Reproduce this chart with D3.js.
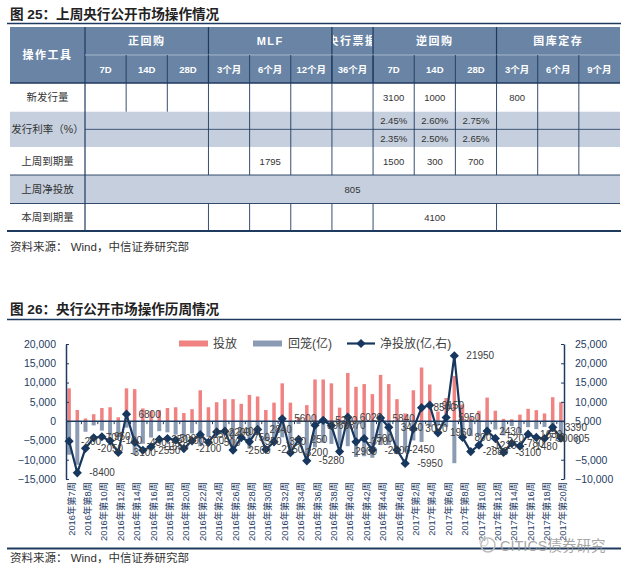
<!DOCTYPE html>
<html><head><meta charset="utf-8">
<script src="https://cdn.jsdelivr.net/npm/d3@7"></script>
<style>
body{margin:0;background:#fff;}
svg{display:block;}
text{font-family:"Liberation Sans","Noto Sans CJK SC",sans-serif;}
</style></head><body>
<svg id="c" width="624" height="572"></svg>
<script>
// ---------------- Table data ----------------
const groupHeaders = ["正回购","MLF","央行票据","逆回购","国库定存"];
const groupSpans   = [3,3,1,3,3];
const subHeaders   = ["7D","14D","28D","3个月","6个月","12个月","36个月","7D","14D","28D","3个月","6个月","9个月"];
const rowNames     = ["新发行量","发行利率（%）","上周到期量","上周净投放","本周到期量"];
const newIssueVals = ["","","","","","","","3100","1000","","800","",""];
const rateHighVals = ["","","","","","","","2.45%","2.60%","2.75%","","",""];
const rateLowVals  = ["","","","","","","","2.35%","2.50%","2.65%","","",""];
const maturedVals  = ["","","","","1795","","","1500","300","700","","",""];
const netLastVals  = ["805"];
const maturingVals = ["","","","","","4100",""];
const rowSpans = [
  [1,1,1,1,1,1,1,1,1,1,1,1,1],
  [3,1,1,1,1,1,1,1,1,1,1],
  [3,1,1,1,1,1,1,1,1,1,1],
  [13],
  [3,1,1,1,1,3,3]
];

// ---------------- Chart data ----------------
const tickLabels = ["2016年第7周","2016年第8周","2016年第10周","2016年第12周","2016年第14周","2016年第16周",
  "2016年第18周","2016年第20周","2016年第22周","2016年第24周","2016年第26周","2016年第28周","2016年第30周",
  "2016年第32周","2016年第34周","2016年第36周","2016年第38周","2016年第40周","2016年第42周","2016年第44周",
  "2016年第46周","2017年第2周","2017年第4周","2017年第6周","2017年第8周","2017年第10周","2017年第12周",
  "2017年第14周","2017年第16周","2017年第18周","2017年第20周"];
// 投放 (亿, left axis)
const invest = [8500,2900,700,1800,3400,3600,1000,8500,8300,3300,
  2600,2850,3400,3600,2100,3100,8000,3600,4900,5700,
  5700,4500,6800,6400,2900,4800,9800,4800,1000,4150,
  10800,10800,9800,3500,12500,8900,9600,7000,12000,9600,
  5700,2000,8000,13900,9500,2500,6000,11700,4300,1000,
  2700,6100,2700,600,500,1700,3200,2850,2000,6200,4900];
// 回笼 (亿, left axis)
const withdraw = [-8700,-11300,-2750,-1100,-2450,-3700,-4100,-1700,-8750,-5850,
  -4250,-2600,-2900,-3500,-4200,-3200,-6500,-4100,-2700,-3300,
  -8200,-3750,-7150,-3600,-5250,-5150,-4200,-8000,-750,-9400,
  -6800,-5600,-5900,-6400,-6500,-9300,-9100,-9500,-6200,-6200,
  -8150,-7950,-5000,-5400,-1500,-1000,-1500,-10900,-3500,-3880,
  -3920,-3670,-2180,-3700,-1280,-3180,-1570,-2080,-1500,-2810,-4295];
// 净投放 (亿, right axis)
const net = [-200,-8400,-2050,700,950,-100,-3100,6800,-450,-2550,
  -1650,250,500,100,-2100,-100,1500,-500,2200,2400,
  -2500,750,-350,2840,-2350,-350,5600,-3200,250,-5280,
  3960,5200,3870,-2900,6020,-370,500,-2500,5840,3410,
  -2450,-5950,3020,8500,9150,1960,5950,21950,800,-2880,
  -1220,2430,520,-3100,-780,-1480,1630,770,500,3390,605];
const leftTicks  = [-15000,-10000,-5000,0,5000,10000,15000,20000];
const rightTicks = [-10000,-5000,0,5000,10000,15000,20000,25000];

const navy = "#1f3a5f";
const svg = d3.select("#c");

// ---------------- Titles ----------------
function title(y, t){
  svg.append("text").attr("x",10).attr("y",y).text(t)
    .attr("font-size",13.6).attr("font-weight","bold").attr("fill","#222")
    .attr("font-family","'Noto Sans CJK SC','Liberation Sans',sans-serif");
}
title(18.5,"图 25：上周央行公开市场操作情况");
svg.append("line").attr("x1",7).attr("x2",621).attr("y1",23.5).attr("y2",23.5).attr("stroke",navy).attr("stroke-width",1.5);

// ---------------- Table ----------------
const tX0 = 10, tX1 = 85, tX2 = 620;
const col = d3.scaleBand().domain(d3.range(13)).range([tX1,tX2]);
const hdrY = [27,55,83];
const rowY = [83,111.7,147,175,203.5,231];
const hdrFill = "#6984a5", lightFill = "#c5cfdd";
const T = svg.append("g");
T.append("rect").attr("x",tX0).attr("y",hdrY[0]).attr("width",tX2-tX0).attr("height",hdrY[2]-hdrY[0]).attr("fill",hdrFill);
[1,3].forEach(r=>T.append("rect").attr("x",tX0).attr("y",rowY[r]).attr("width",tX2-tX0).attr("height",rowY[r+1]-rowY[r]).attr("fill",lightFill));

const clip = svg.append("defs");
let c0 = 0;
groupHeaders.forEach((g,k)=>{
  const x0 = col(c0), x1 = col(c0+groupSpans[k]-1)+col.bandwidth();
  clip.append("clipPath").attr("id","hc"+k).append("rect").attr("x",x0+1).attr("y",hdrY[0]).attr("width",x1-x0-2).attr("height",28);
  T.append("text").attr("x",(x0+x1)/2).attr("y",(hdrY[0]+hdrY[1])/2+4).attr("text-anchor","middle")
    .attr("fill","#fff").attr("font-weight","bold").attr("font-size",11).attr("letter-spacing",1.5)
    .attr("clip-path","url(#hc"+k+")").text(g);
  if(c0>0) T.append("line").attr("x1",x0).attr("x2",x0).attr("y1",hdrY[0]).attr("y2",hdrY[2]).attr("stroke",navy).attr("stroke-width",1.2);
  c0 += groupSpans[k];
});
T.append("line").attr("x1",tX1).attr("x2",tX1).attr("y1",hdrY[0]).attr("y2",rowY[5]).attr("stroke",navy).attr("stroke-width",1.2);
T.append("line").attr("x1",tX1).attr("x2",tX2).attr("y1",hdrY[1]).attr("y2",hdrY[1]).attr("stroke","#b8c6d6").attr("stroke-width",0.8);
subHeaders.forEach((s,i)=>{
  T.append("text").attr("x",col(i)+col.bandwidth()/2).attr("y",(hdrY[1]+hdrY[2])/2+3.5).attr("text-anchor","middle")
    .attr("fill","#fff").attr("font-weight","bold").attr("font-size",9.5).text(s);
  if(i>0) T.append("line").attr("x1",col(i)).attr("x2",col(i)).attr("y1",hdrY[1]).attr("y2",hdrY[2]).attr("stroke",navy).attr("stroke-width",0.9);
});
T.append("text").attr("x",(tX0+tX1)/2).attr("y",(hdrY[0]+hdrY[2])/2+4).attr("text-anchor","middle")
  .attr("fill","#fff").attr("font-weight","bold").attr("font-size",11).attr("letter-spacing",1.5).text("操作工具");
T.append("line").attr("x1",tX0).attr("x2",tX2).attr("y1",hdrY[2]).attr("y2",hdrY[2]).attr("stroke",navy).attr("stroke-width",1.5);

rowNames.forEach((n,r)=>{
  T.append("text").attr("x",(tX0+tX1)/2).attr("y",(rowY[r]+rowY[r+1])/2+4).attr("text-anchor","middle")
    .attr("fill","#333").attr("font-size",10.5).text(n);
  let c = 0;
  rowSpans[r].forEach((sp,k)=>{
    if(c>0) T.append("line").attr("x1",col(c)).attr("x2",col(c)).attr("y1",rowY[r]).attr("y2",rowY[r+1]).attr("stroke",navy).attr("stroke-width",0.9);
    c += sp;
  });
});
function cellTexts(vals, spans, y){
  let c = 0;
  spans.forEach((sp,k)=>{
    const v = vals[k];
    if(v){
      const x0 = col(c), x1 = col(c+sp-1)+col.bandwidth();
      T.append("text").attr("x",(x0+x1)/2).attr("y",y).attr("text-anchor","middle").attr("fill","#333").attr("font-size",9.5).text(v);
    }
    c += sp;
  });
}
const single = d3.range(13).map(()=>1);
cellTexts(newIssueVals, single, (rowY[0]+rowY[1])/2+3.5);
const rMid = (rowY[1]+rowY[2])/2;
cellTexts(rateHighVals, single, (rowY[1]+rMid)/2+3.5);
cellTexts(rateLowVals, single, (rMid+rowY[2])/2+3.5);
T.append("line").attr("x1",tX1).attr("x2",tX2).attr("y1",rMid).attr("y2",rMid).attr("stroke",navy).attr("stroke-width",0.8);
cellTexts(maturedVals, single, (rowY[2]+rowY[3])/2+3.5);
cellTexts(netLastVals, rowSpans[3], (rowY[3]+rowY[4])/2+3.5);
cellTexts(maturingVals, rowSpans[4], (rowY[4]+rowY[5])/2+3.5);
[rowY[3],rowY[4]].forEach(y=>T.append("line").attr("x1",tX0).attr("x2",tX2).attr("y1",y).attr("y2",y).attr("stroke",navy).attr("stroke-width",0.9));
T.append("line").attr("x1",7).attr("x2",621).attr("y1",rowY[5]).attr("y2",rowY[5]).attr("stroke",navy).attr("stroke-width",2);
svg.append("text").attr("x",10).attr("y",250.5).attr("font-size",11.5).attr("fill","#333").text("资料来源： Wind，中信证券研究部");

// ---------------- Chart ----------------
title(314,"图 26：央行公开市场操作历周情况");
svg.append("line").attr("x1",7).attr("x2",621).attr("y1",319.5).attr("y2",319.5).attr("stroke",navy).attr("stroke-width",1.5);

const x = d3.scaleBand().domain(d3.range(invest.length)).range([65,565]);
const cx = i => x(i) + x.bandwidth()/2;
const yL = d3.scaleLinear().domain([-15000,20000]).range([479,344]);
const yR = d3.scaleLinear().domain([-10000,25000]).range([479,344]);
const G = svg.append("g");

G.selectAll(".wd").data(withdraw).enter().append("rect")
  .attr("x",(d,i)=>cx(i)-2).attr("width",4)
  .attr("y",yL(0)).attr("height",d=>yL(d)-yL(0)).attr("fill","#8a9bb3");
G.selectAll(".iv").data(invest).enter().append("rect")
  .attr("x",(d,i)=>cx(i)-1.75).attr("width",3.5)
  .attr("y",d=>yL(d)).attr("height",d=>yL(0)-yL(d)).attr("fill","#f08282");

const axL = G.append("g").attr("transform","translate(66,0)")
  .call(d3.axisLeft(yL).tickValues(leftTicks).tickSizeInner(-3).tickSizeOuter(0).tickPadding(10));
const axR = G.append("g").attr("transform","translate(564,0)")
  .call(d3.axisRight(yR).tickValues(rightTicks).tickSizeInner(-3).tickSizeOuter(0).tickPadding(11));
[axL,axR].forEach(a=>{
  a.select(".domain").attr("stroke",navy).attr("stroke-width",1.5);
  a.selectAll(".tick line").attr("stroke",navy);
  a.selectAll(".tick text").attr("fill","#1f3c64").attr("font-size",10.5);
});
G.append("line").attr("x1",66).attr("x2",564).attr("y1",yL(0)).attr("y2",yL(0)).attr("stroke",navy).attr("stroke-width",1.5);
d3.range(2,invest.length,2).forEach(i=>{
  G.append("line").attr("x1",x(i)).attr("x2",x(i)).attr("y1",yL(0)).attr("y2",yL(0)+3).attr("stroke",navy);
});
tickLabels.forEach((t,k)=>{
  const i = k*2;
  G.append("text").attr("transform",`translate(${cx(i)},482) rotate(-90)`)
    .attr("text-anchor","end").attr("dy","0.6em").attr("font-size",9.3).attr("fill","#1f3c64").text(t);
});

const lineColor = "#17375e";
G.append("path").datum(net).attr("fill","none").attr("stroke",lineColor).attr("stroke-width",2.2)
  .attr("d",d3.line().x((d,i)=>cx(i)).y(d=>yR(d)));
const diamond = "M0,-4.6L4.6,0L0,4.6L-4.6,0Z";
G.selectAll(".mk").data(net).enter().append("path").attr("d",diamond)
  .attr("transform",(d,i)=>`translate(${cx(i)},${yR(d)})`).attr("fill",lineColor);
G.selectAll(".lb").data(net).enter().append("text")
  .attr("x",(d,i)=>cx(i)+12).attr("y",d=>yR(d)+3.6)
  .attr("font-size",10).attr("fill","#404040").text(d=>d);

const L = svg.append("g");
L.append("rect").attr("x",179).attr("y",340.5).attr("width",29).attr("height",6).attr("fill","#f08282");
L.append("text").attr("x",213).attr("y",347.5).attr("font-size",12).attr("fill","#404040").text("投放");
L.append("rect").attr("x",253).attr("y",340.5).attr("width",29).attr("height",6).attr("fill","#8a9bb3");
L.append("text").attr("x",288).attr("y",347.5).attr("font-size",12).attr("fill","#404040").text("回笼(亿)");
L.append("line").attr("x1",347).attr("x2",375).attr("y1",343.5).attr("y2",343.5).attr("stroke",lineColor).attr("stroke-width",2.2);
L.append("path").attr("d",diamond).attr("transform","translate(361,343.5)").attr("fill",lineColor);
L.append("text").attr("x",380).attr("y",347.5).attr("font-size",12).attr("fill","#404040").text("净投放(亿,右)");

svg.append("line").attr("x1",7).attr("x2",621).attr("y1",548.5).attr("y2",548.5).attr("stroke",navy).attr("stroke-width",2);
svg.append("text").attr("x",10).attr("y",562).attr("font-size",11.5).attr("fill","#333").text("资料来源： Wind，中信证券研究部");
// watermark
svg.append("circle").attr("cx",488).attr("cy",545).attr("r",7).attr("fill","none").attr("stroke","#bbb").attr("stroke-width",1.5);
svg.append("circle").attr("cx",484).attr("cy",542).attr("r",4).attr("fill","none").attr("stroke","#ccc").attr("stroke-width",1.2);
svg.append("text").attr("x",500).attr("y",551).attr("font-size",14.5).attr("fill","#9a9a9a").attr("opacity",0.85).text("CITICS债券研究");
</script>
</body></html>
